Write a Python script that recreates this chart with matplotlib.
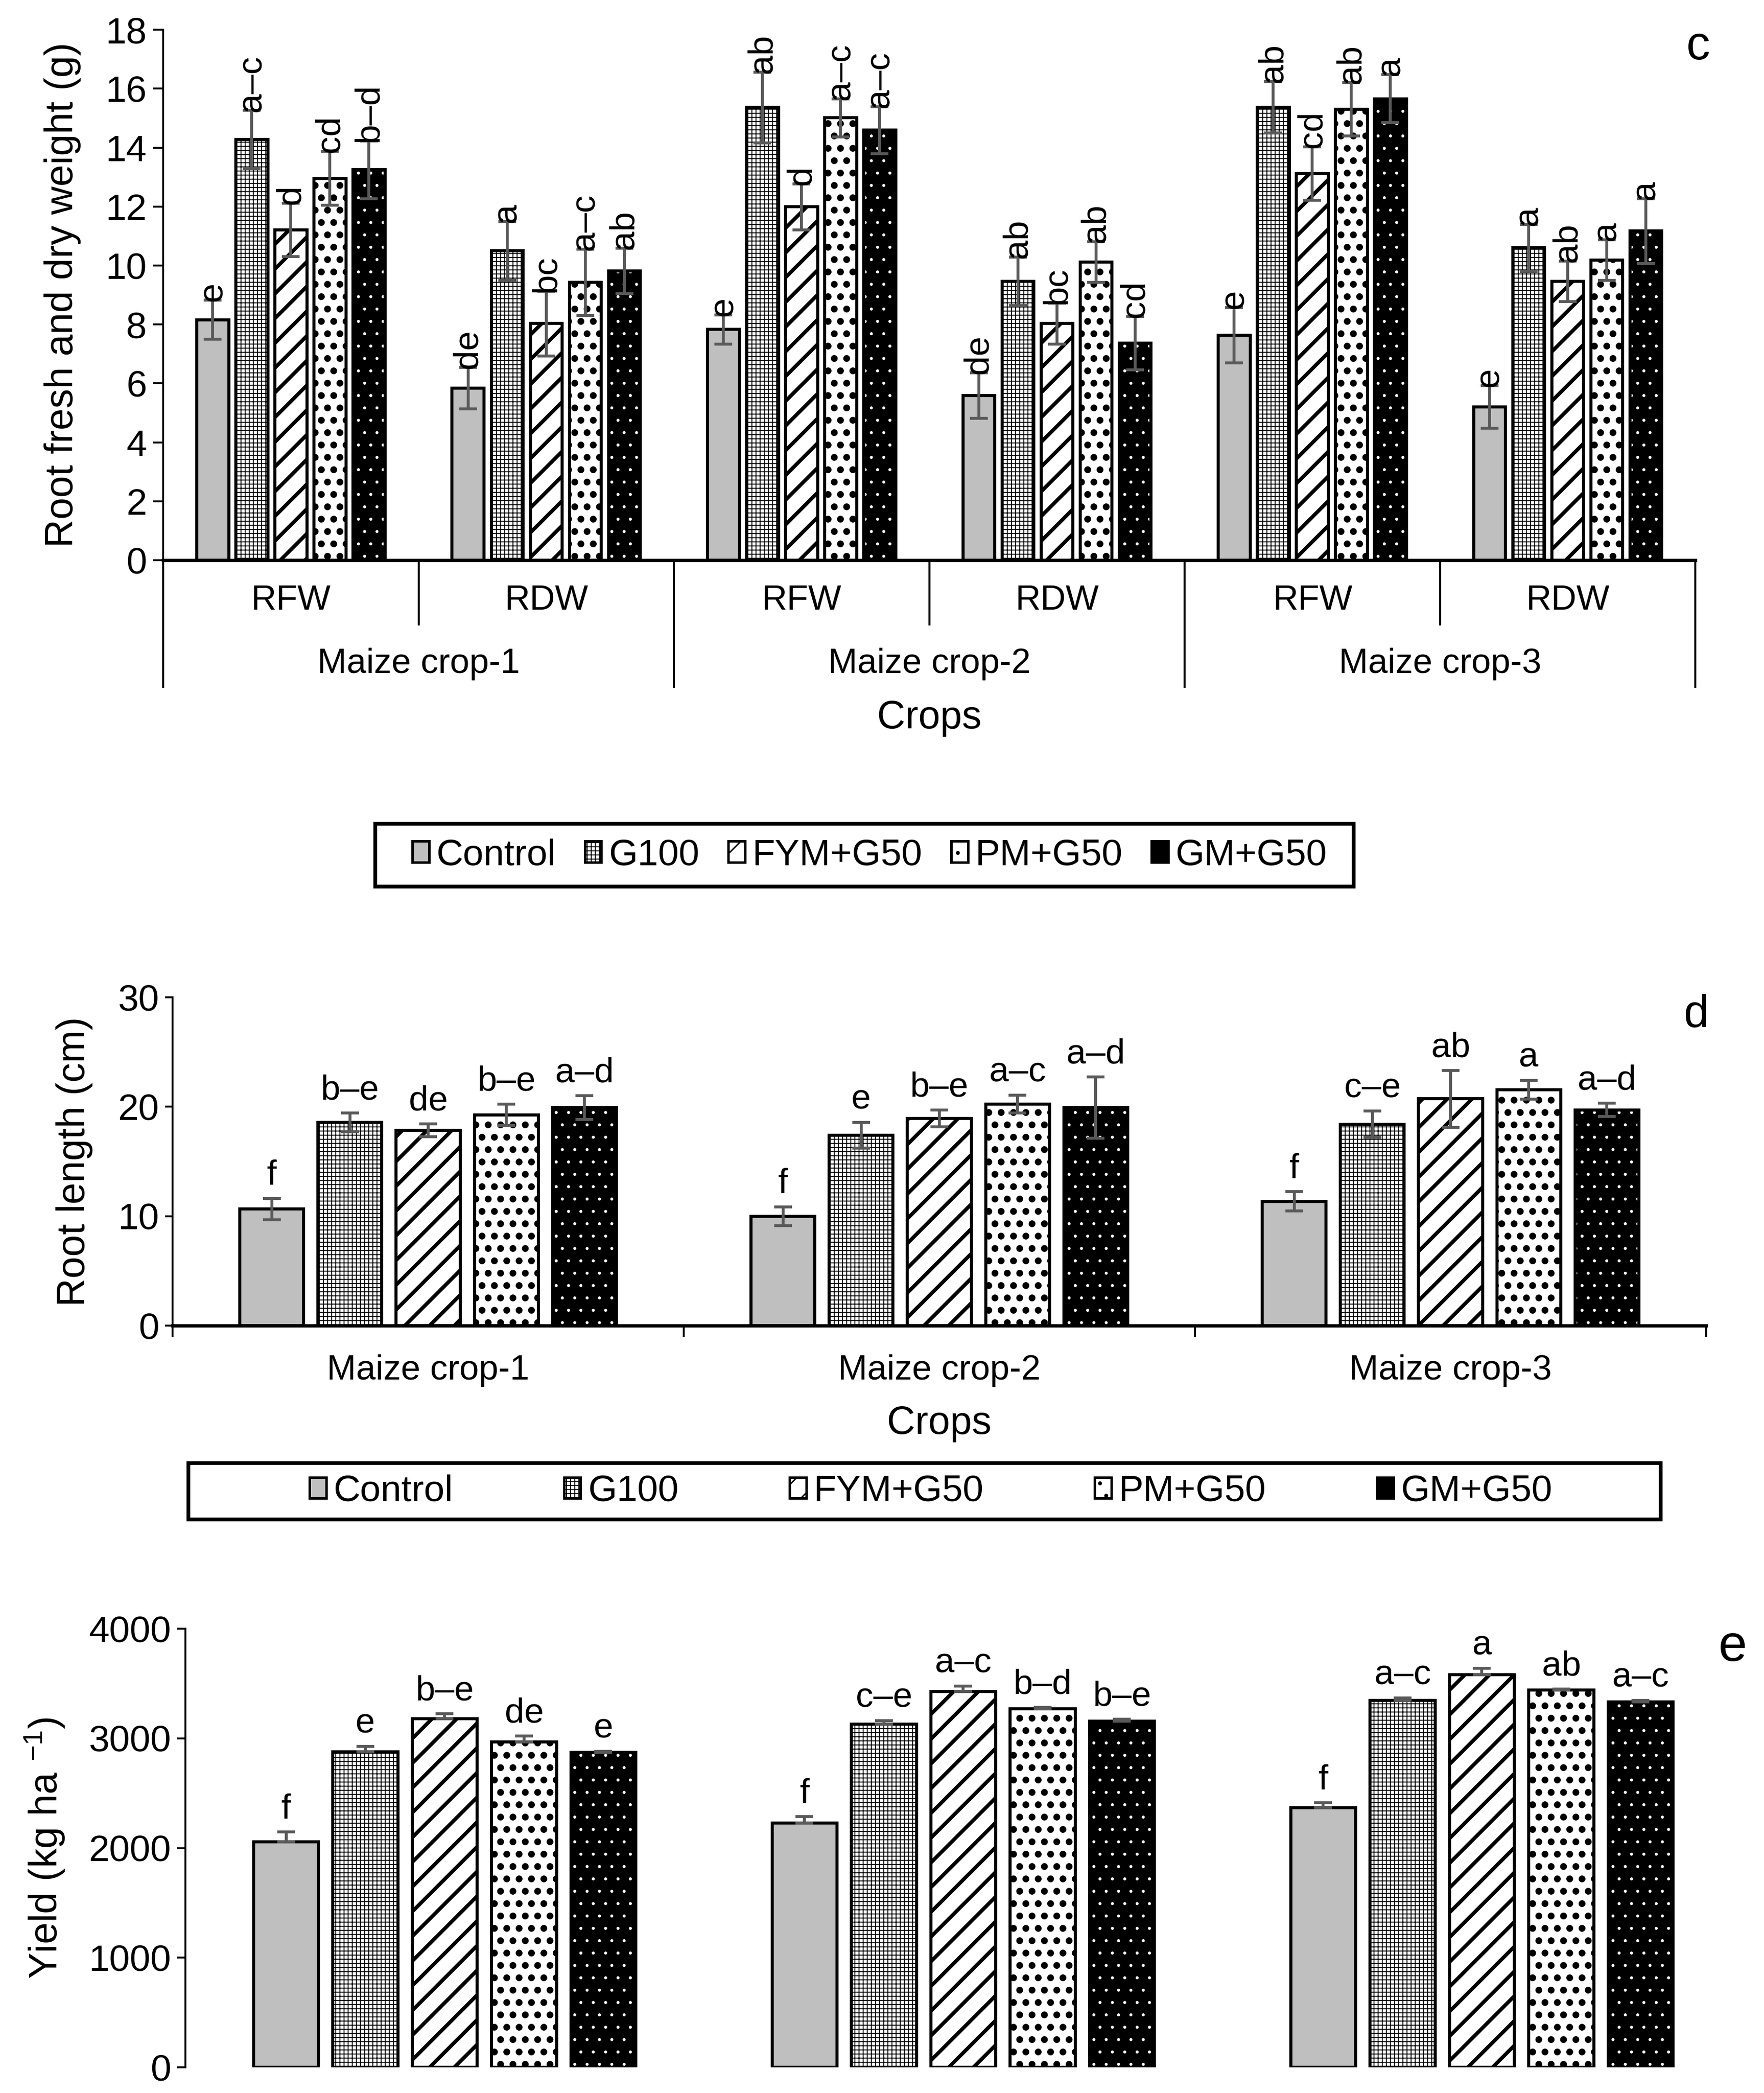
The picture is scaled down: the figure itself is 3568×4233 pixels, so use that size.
import numpy as np
import matplotlib
matplotlib.use("Agg")
import matplotlib as mpl
import matplotlib.pyplot as plt
import matplotlib.transforms as mtrans
from matplotlib.patches import Patch, Rectangle

# ---------------- data ----------------
treatments = ["Control", "G100", "FYM+G50", "PM+G50", "GM+G50"]
crops = ["Maize crop-1", "Maize crop-2", "Maize crop-3"]
c_sub = ["RFW", "RDW"]

# panel c: categories = C1-RFW, C1-RDW, C2-RFW, C2-RDW, C3-RFW, C3-RDW
c_control = [8.16, 5.84, 7.83, 5.59, 7.63, 5.21]
c_g100 = [14.27, 10.50, 15.36, 9.47, 15.37, 10.60]
c_fym = [11.21, 8.03, 11.99, 8.03, 13.12, 9.46]
c_pm = [12.96, 9.43, 15.01, 10.12, 15.30, 10.19]
c_gm = [13.25, 9.82, 14.59, 7.37, 15.66, 11.17]
c_control_err = [0.66, 0.70, 0.50, 0.77, 0.94, 0.72]
c_g100_err = [0.99, 1.00, 1.20, 0.82, 0.87, 0.80]
c_fym_err = [0.90, 1.10, 0.78, 0.69, 0.90, 0.69]
c_pm_err = [0.91, 1.12, 0.65, 0.69, 0.90, 0.69]
c_gm_err = [0.98, 0.77, 0.80, 0.91, 0.82, 1.10]
c_control_let = ["e", "de", "e", "de", "e", "e"]
c_g100_let = ["a–c", "a", "ab", "ab", "ab", "a"]
c_fym_let = ["d", "bc", "d", "bc", "cd", "ab"]
c_pm_let = ["cd", "a–c", "a–c", "ab", "ab", "a"]
c_gm_let = ["b–d", "ab", "a–c", "cd", "a", "a"]

# panel d: root length (cm)
d_control = [10.66, 10.00, 11.35]
d_g100 = [18.58, 17.40, 18.41]
d_fym = [17.85, 18.93, 20.73]
d_pm = [19.27, 20.24, 21.56]
d_gm = [19.93, 19.93, 19.72]
d_control_err = [0.97, 0.87, 0.88]
d_g100_err = [0.87, 1.18, 1.18]
d_fym_err = [0.60, 0.76, 2.60]
d_pm_err = [0.99, 0.80, 0.85]
d_gm_err = [1.09, 2.80, 0.60]
d_control_let = ["f", "f", "f"]
d_g100_let = ["b–e", "e", "c–e"]
d_fym_let = ["de", "b–e", "ab"]
d_pm_let = ["b–e", "a–c", "a"]
d_gm_let = ["a–d", "a–d", "a–d"]

# panel e: yield (kg ha-1)
e_control = [2057, 2229, 2366]
e_g100 = [2880, 3131, 3349]
e_fym = [3180, 3430, 3580]
e_pm = [2968, 3268, 3440]
e_gm = [2874, 3157, 3333]
e_control_err = [88, 56, 46]
e_g100_err = [46, 33, 20]
e_fym_err = [45, 49, 59]
e_pm_err = [56, 16, 10]
e_gm_err = [10, 20, 13]
e_control_let = ["f", "f", "f"]
e_g100_let = ["e", "c–e", "a–c"]
e_fym_let = ["b–e", "a–c", "a"]
e_pm_let = ["de", "b–d", "ab"]
e_gm_let = ["e", "b–e", "a–c"]

# ---------------- style ----------------
plt.rcParams["font.family"] = ["Liberation Sans", "DejaVu Sans"]
plt.rcParams["mathtext.fontset"] = "custom"
plt.rcParams["mathtext.rm"] = "Liberation Sans"
plt.rcParams["mathtext.it"] = "Liberation Sans:italic"
plt.rcParams["hatch.linewidth"] = 1.0

ERR_COLOR = "#595959"
EDGE_LW = 1.5
STYLES = [
    dict(fc="#BFBFBF", hatch=None, hlw=1.0),
    dict(fc="white", hatch="++++++", hlw=0.45),
    dict(fc="white", hatch="//", hlw=1.8),
    dict(fc="white", hatch="..", hlw=2.1),
    dict(fc="black", hatch=None, hlw=0.25, dots=".."),
]
STEP = 0.153
WIDTH = 0.125
TXT = 17


def hatch_lw(artists, lw):
    for a in artists:
        a.set_hatch_linewidth(lw)


def draw_series(ax, x, vals, errs, letters, st, rot, plus_only=False):
    if "dots" in st:
        ax.bar(x, vals, WIDTH, color="black", edgecolor="black", linewidth=0)
        b1 = ax.bar(x, vals, WIDTH, color="none", edgecolor="white",
                    linewidth=0, hatch=st["dots"])
        hatch_lw(b1, st["hlw"])
        ax.bar(x, vals, WIDTH, color="none", edgecolor="black", linewidth=EDGE_LW)
    else:
        b = ax.bar(x, vals, WIDTH, color=st["fc"], edgecolor="black",
                   linewidth=EDGE_LW, hatch=st["hatch"])
        hatch_lw(b, st["hlw"])
    vals = np.asarray(vals, float)
    errs = np.asarray(errs, float)
    yerr = [np.zeros_like(errs), errs] if plus_only else errs
    ax.errorbar(x, vals, yerr=yerr, fmt="none", ecolor=ERR_COLOR,
                elinewidth=1.4, capsize=4.3, capthick=1.4, zorder=3)
    for xi, v, e, t in zip(x, vals, errs, letters):
        if rot:
            ax.annotate(t, (xi, v + e), xytext=(0, -0.5), textcoords="offset points",
                        rotation=90, ha="center", va="bottom", fontsize=TXT)
        else:
            ax.annotate(t, (xi, v + e), xytext=(0, 3), textcoords="offset points",
                        ha="center", va="bottom", fontsize=TXT)


def base_axes(ax, tick_len=5):
    ax.spines["top"].set_visible(False)
    ax.spines["right"].set_visible(False)
    ax.spines["left"].set_linewidth(0.9)
    ax.spines["bottom"].set_linewidth(1.6)
    ax.tick_params(axis="y", direction="out", length=tick_len, width=0.9,
                   labelsize=18, pad=3)


fig = plt.figure(figsize=(3568 / 300, 4233 / 300), dpi=300)

# ---------------- panel c ----------------
axc = fig.add_axes([0.0925, 0.7323, 0.8686, 0.2535])
base_axes(axc)
nc = len(crops) * len(c_sub)
xc = np.arange(nc)
c_vals = [c_control, c_g100, c_fym, c_pm, c_gm]
c_errs = [c_control_err, c_g100_err, c_fym_err, c_pm_err, c_gm_err]
c_lets = [c_control_let, c_g100_let, c_fym_let, c_pm_let, c_gm_let]
for i in range(len(treatments)):
    draw_series(axc, xc + (i - 2) * STEP, c_vals[i], c_errs[i], c_lets[i],
                STYLES[i], rot=True)
axc.set_xlim(-0.5, nc - 0.5)
axc.set_ylim(0, 18)
axc.set_yticks(np.arange(0, 19, 2))
axc.set_xticks([])
axc.set_ylabel("Root fresh and dry weight (g)", fontsize=19)
axc.yaxis.set_label_coords(-0.0537, 0.5)
trc = mtrans.blended_transform_factory(axc.transData, axc.transAxes)
for k in range(nc):
    axc.text(k, -0.0764, c_sub[k % 2], transform=trc, ha="center", va="center",
             fontsize=TXT)
for j, name in enumerate(crops):
    axc.text(2 * j + 0.5, -0.1957, name, transform=trc, ha="center", va="center",
             fontsize=TXT)
    axc.plot([2 * j + 0.5] * 2, [0, -0.121], transform=trc, color="black",
             lw=1.0, clip_on=False)
for j in range(len(crops) + 1):
    axc.plot([2 * j - 0.5] * 2, [0, -0.2386], transform=trc, color="black",
             lw=1.0, clip_on=False)
axc.text(0.5, -0.298, "Crops", transform=axc.transAxes, ha="center", va="center",
         fontsize=19)
fig.text(3435 / 3568, 1 - 95 / 4233, "c", fontsize=23, ha="center", va="center")


# ---------------- legend helpers ----------------
def add_legend(inner_x0, inner_x1, yc, frame):
    W, H = 3568.0, 4233.0
    handles = [Patch(facecolor=st["fc"], edgecolor="black", linewidth=1.2,
                     hatch=st["hatch"]) for st in STYLES]
    leg = fig.legend(handles, treatments, loc="center",
                     bbox_to_anchor=(inner_x0 / W, 1 - (yc + 30) / H,
                                     (inner_x1 - inner_x0) / W, 60 / H),
                     bbox_transform=fig.transFigure, mode="expand", ncol=5,
                     frameon=False, borderaxespad=0, borderpad=0,
                     handlelength=0.45, handleheight=0.5, handletextpad=0.2,
                     fontsize=18)
    for h, st in zip(leg.legend_handles, STYLES):
        h.set_hatch_linewidth(min(st["hlw"], 0.7))
    fx0, fx1, fy0, fy1 = frame
    fig.patches.append(Rectangle((fx0 / W, 1 - fy1 / H), (fx1 - fx0) / W,
                                 (fy1 - fy0) / H, transform=fig.transFigure,
                                 fill=False, edgecolor="black", linewidth=1.8))
    return leg


add_legend(834, 2684, 1729.5, (759, 2738, 1666, 1793))

# ---------------- panel d ----------------
axd = fig.add_axes([0.0978, 0.3666, 0.8694, 0.1569])
base_axes(axd, tick_len=3.5)
xd = np.arange(len(crops))
d_vals = [d_control, d_g100, d_fym, d_pm, d_gm]
d_errs = [d_control_err, d_g100_err, d_fym_err, d_pm_err, d_gm_err]
d_lets = [d_control_let, d_g100_let, d_fym_let, d_pm_let, d_gm_let]
for i in range(len(treatments)):
    draw_series(axd, xd + (i - 2) * STEP, d_vals[i], d_errs[i], d_lets[i],
                STYLES[i], rot=False)
axd.set_xlim(-0.5, len(crops) - 0.5)
axd.set_ylim(0, 30)
axd.set_yticks([0, 10, 20, 30])
axd.set_xticks(np.arange(len(crops) + 1) - 0.5)
axd.set_xticklabels([])
axd.tick_params(axis="x", direction="out", length=5.5, width=0.9)
trd = mtrans.blended_transform_factory(axd.transData, axd.transAxes)
for j, name in enumerate(crops):
    axd.text(j, -0.137, name, transform=trd, ha="center", va="center", fontsize=TXT)
axd.text(0.5, -0.298, "Crops", transform=axd.transAxes, ha="center", va="center",
         fontsize=19)
axd.set_ylabel("Root length (cm)", fontsize=19)
axd.yaxis.set_label_coords(-0.0518, 0.5)
fig.text(3431 / 3568, 1 - 2053 / 4233, "d", fontsize=22, ha="center", va="center")

add_legend(626, 3140, 3016, (381, 3359, 2959, 3073))

# ---------------- panel e ----------------
axe = fig.add_axes([0.1051, 0.01228, 0.882, 0.2095])
base_axes(axe, tick_len=4)
axe.spines["bottom"].set_visible(False)
xe = np.arange(len(crops))
e_vals = [e_control, e_g100, e_fym, e_pm, e_gm]
e_errs = [e_control_err, e_g100_err, e_fym_err, e_pm_err, e_gm_err]
e_lets = [e_control_let, e_g100_let, e_fym_let, e_pm_let, e_gm_let]
for i in range(len(treatments)):
    draw_series(axe, xe + (i - 2) * STEP, e_vals[i], e_errs[i], e_lets[i],
                STYLES[i], rot=False, plus_only=True)
axe.set_xlim(-0.5, len(crops) - 0.5)
axe.set_ylim(0, 4000)
axe.set_yticks(np.arange(0, 4001, 1000))
axe.set_xticks([])
axe.set_ylabel("Yield (kg ha $^{-1}$)", fontsize=19)
axe.yaxis.set_label_coords(-0.0762, 0.5)
fig.text(3505 / 3568, 1 - 3333 / 4233, "e", fontsize=25, ha="center", va="center")

fig.savefig("out.png", dpi=300)
